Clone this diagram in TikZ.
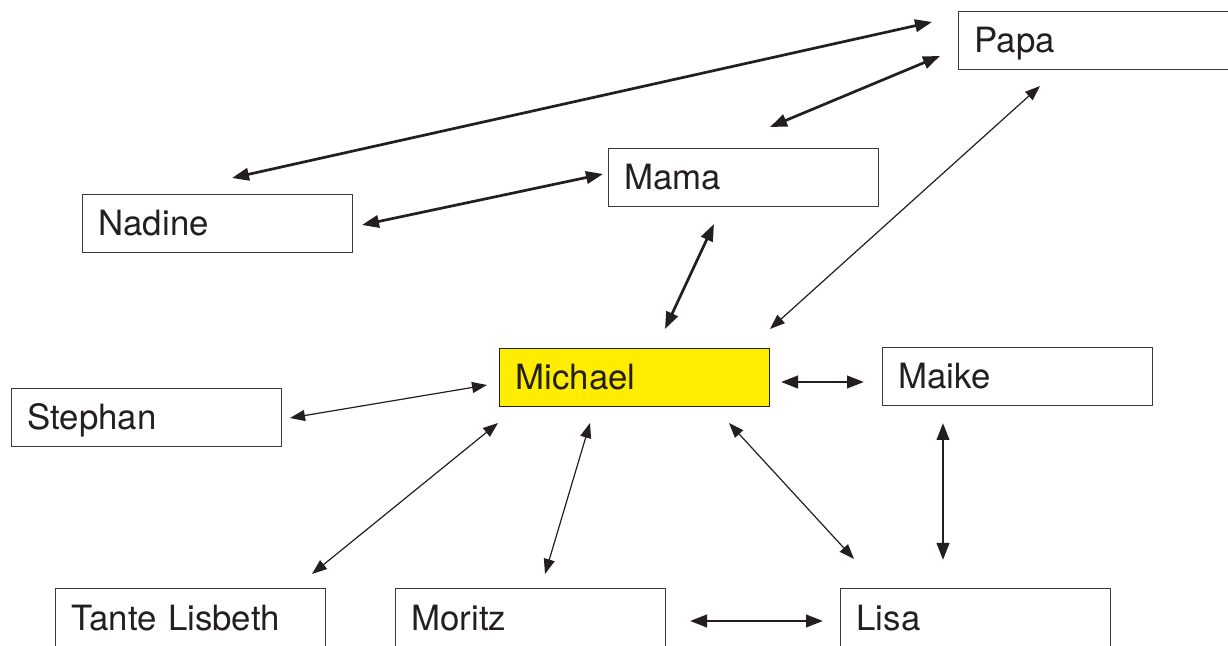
\documentclass[tikz,border=0pt]{standalone}
\usepackage{fontspec}
\setmainfont{TeX Gyre Heros}
\usetikzlibrary{arrows.meta}
\definecolor{ink}{HTML}{231F20}
\definecolor{boxline}{HTML}{3A3A3A}
\definecolor{myyellow}{HTML}{FFED00}
\tikzset{
  person/.style={draw=boxline, line width=0.6pt, rectangle, anchor=north west,
    minimum height=29pt, text width=119pt, align=left, inner xsep=8pt, inner ysep=0pt,
    text height=12pt, text depth=0pt, font=\fontsize{17.4pt}{20pt}\selectfont, text=ink},
  cutperson/.style={person, minimum height=31pt, text height=11pt},
  strong/.style={ink, line width=1.35pt, {Triangle[length=8.5pt,width=6.2pt]}-{Triangle[length=8.5pt,width=6.2pt]}},
  weak/.style={ink, line width=0.6pt, {Triangle[length=7.5pt,width=5.5pt]}-{Triangle[length=7.5pt,width=5.5pt]}}
}
\begin{document}
\begin{tikzpicture}[x=0.5pt,y=-0.5pt]
\useasboundingbox (0,0) rectangle (1228,646);
\fill[white] (0,0) rectangle (1228,646);
% nodes
\node[person] (papa) at (958,11) {Papa};
\node[person] (mama) at (608,148) {Mama};
\node[person] (nadine) at (82,194) {Nadine};
\node[person, fill=myyellow, draw=ink] (michael) at (499,348) {Michael};
\node[person] (maike) at (882,347) {Maike};
\node[person] (stephan) at (11,388) {Stephan};
\node[cutperson] (tante) at (55,588) {Tante Lisbeth};
\node[cutperson] (moritz) at (395,588) {Moritz};
\node[cutperson] (lisa) at (840,588) {Lisa};
% connector end points
\coordinate (papaA) at (932,22);   \coordinate (nadineA) at (232,178);
\coordinate (papaB) at (940,56);   \coordinate (mamaB) at (770,127);
\coordinate (mamaC) at (603,174);  \coordinate (nadineC) at (362,225);
\coordinate (mamaD) at (714,224);  \coordinate (michaelD) at (665,329);
\coordinate (papaE) at (1040,86);  \coordinate (michaelE) at (770,329);
\coordinate (michaelF) at (781,382); \coordinate (maikeF) at (864,382);
\coordinate (stephanG) at (290,418); \coordinate (michaelG) at (487,385);
\coordinate (tanteH) at (312,574); \coordinate (michaelH) at (498,423);
\coordinate (moritzI) at (545,574); \coordinate (michaelI) at (590,423);
\coordinate (lisaJ) at (854,559);  \coordinate (michaelJ) at (729,423);
\coordinate (maikeK) at (943,423); \coordinate (lisaK) at (943,560);
\coordinate (moritzL) at (690,621); \coordinate (lisaL) at (823,621);
% connectors
\draw[strong] (papaA) -- (nadineA);
\draw[strong] (papaB) -- (mamaB);
\draw[strong] (mamaC) -- (nadineC);
\draw[strong] (mamaD) -- (michaelD);
\draw[weak] (papaE) -- (michaelE);
\draw[strong] (michaelF) -- (maikeF);
\draw[weak] (stephanG) -- (michaelG);
\draw[weak] (tanteH) -- (michaelH);
\draw[weak] (moritzI) -- (michaelI);
\draw[weak] (lisaJ) -- (michaelJ);
\draw[strong] (maikeK) -- (lisaK);
\draw[strong] (moritzL) -- (lisaL);
\end{tikzpicture}
\end{document}
